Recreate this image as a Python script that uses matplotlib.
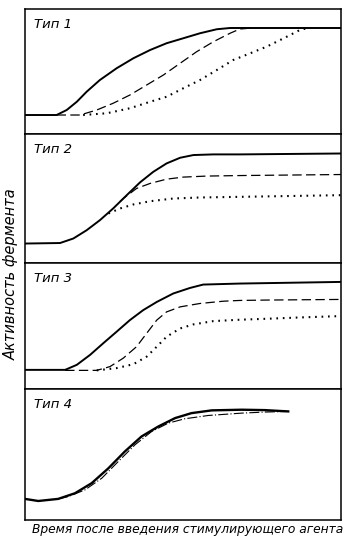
import matplotlib
matplotlib.use("Agg")
from matplotlib import pyplot as plt

# time (0-100 across each panel), activity (0-100 of panel height)
t1_solid = [0, 10.0, 13.2, 16.4, 19.5, 23.7, 29.0, 34.3, 39.6, 44.8, 50.1, 55.4, 60.7, 64.9, 100]
a1_solid = [15.2, 15.2, 19.2, 25.8, 33.8, 43.2, 52.6, 60.6, 67.2, 72.6, 76.6, 80.6, 83.8, 84.8, 84.8]
t1_dash = [10.0, 17.4, 22.7, 27.9, 33.2, 38.5, 43.8, 49.1, 54.3, 59.6, 64.9, 68.0, 72.0]
a1_dash = [15.2, 15.2, 19.2, 24.6, 31.2, 39.2, 47.2, 56.6, 65.8, 73.8, 80.6, 84.0, 84.8]
t1_dot = [18.4, 25.9, 33.2, 39.6, 44.8, 50.1, 55.4, 60.7, 65.9, 71.2, 76.5, 81.8, 87.0, 89.1]
a1_dot = [15.2, 16.6, 20.6, 25.8, 29.8, 36.6, 43.2, 51.2, 59.2, 64.5, 69.9, 76.5, 83.2, 84.5]

t2_solid = [0, 11.1, 15.3, 19.5, 23.7, 27.9, 32.2, 36.4, 40.6, 44.8, 49.1, 53.3, 59.6, 68.0, 100]
a2_solid = [15.1, 15.5, 19.0, 25.4, 33.2, 42.3, 52.6, 62.5, 70.7, 77.2, 81.6, 83.7, 84.2, 84.2, 84.9]
t2_dash = [30.0, 31.1, 35.3, 39.6, 44.8, 50.1, 57.5, 68.0, 100]
a2_dash = [47.5, 50.0, 57.8, 61.7, 65.0, 66.6, 67.4, 67.8, 68.6]
t2_dot = [26.4, 30.1, 34.3, 39.6, 46.9, 55.4, 68.0, 100]
a2_dot = [38.4, 42.3, 45.4, 47.9, 50.0, 50.8, 51.3, 52.6]

t3_solid = [0, 12.7, 16.4, 20.6, 24.8, 29.0, 33.2, 37.4, 41.7, 46.9, 52.2, 56.4, 68.0, 100]
a3_solid = [15.2, 15.2, 19.2, 27.1, 36.4, 45.5, 54.7, 62.6, 69.1, 75.8, 80.2, 82.9, 83.7, 85.0]
t3_dash = [12.7, 22.7, 26.9, 31.1, 35.3, 38.5, 41.7, 44.8, 49.1, 55.4, 62.8, 68.0, 76.5, 100]
a3_dash = [14.8, 14.8, 17.8, 24.5, 33.6, 44.2, 54.7, 61.2, 65.2, 67.9, 69.7, 70.3, 70.6, 71.1]
t3_dot = [22.7, 29.0, 34.3, 38.5, 41.7, 44.8, 49.1, 53.3, 59.6, 68.0, 77.0, 87.0, 100]
a3_dot = [14.8, 16.6, 19.7, 25.7, 33.6, 41.5, 48.1, 51.3, 53.9, 55.0, 55.8, 56.8, 57.9]

t4_solid = [0, 4.2, 10.5, 15.8, 21.1, 26.4, 31.6, 36.9, 42.2, 47.5, 52.7, 59.1, 68.6, 75.9, 83.3]
a4_solid = [16.1, 14.5, 16.1, 20.4, 28.1, 39.5, 52.3, 63.8, 71.4, 77.8, 81.6, 83.7, 84.2, 83.9, 82.9]
t4_dashdot = [10.5, 13.7, 19.0, 24.3, 29.5, 34.8, 40.1, 45.4, 50.6, 58.0, 68.6, 75.9, 83.3]
a4_dashdot = [16.1, 17.9, 23.0, 31.9, 44.6, 57.4, 67.6, 74.0, 77.3, 79.8, 81.6, 82.4, 82.9]

titles = ["Тип 1", "Тип 2", "Тип 3", "Тип 4"]

fig = plt.figure(figsize=(3.5, 5.45), dpi=100)
bounds = [0.9835, 0.7541, 0.5174, 0.2862, 0.0459]
axes = []
for i in range(4):
    ax = fig.add_axes([0.0714, bounds[i + 1], 0.9029, bounds[i] - bounds[i + 1]])
    ax.set_xlim(0, 100)
    ax.set_ylim(0, 100)
    ax.set_xticks([])
    ax.set_yticks([])
    for s in ax.spines.values():
        s.set_linewidth(1.1)
    ax.text(0.03, 0.93, titles[i], transform=ax.transAxes, ha="left", va="top",
            fontsize=9.5, style="italic")
    axes.append(ax)

dash = (0, (7.5, 3.5))
dots = (0, (0.8, 2.3))

ax = axes[0]
ax.plot(t1_solid, a1_solid, color="black", lw=1.4)
ax.plot(t1_dash, a1_dash, color="black", lw=0.9, linestyle=dash)
ax.plot(t1_dot, a1_dot, color="black", lw=1.5, linestyle=dots)

ax = axes[1]
ax.plot(t2_solid, a2_solid, color="black", lw=1.4)
ax.plot(t2_dash, a2_dash, color="black", lw=0.9, linestyle=dash)
ax.plot(t2_dot, a2_dot, color="black", lw=1.5, linestyle=dots)

ax = axes[2]
ax.plot(t3_solid, a3_solid, color="black", lw=1.4)
ax.plot(t3_dash, a3_dash, color="black", lw=0.9, linestyle=dash)
ax.plot(t3_dot, a3_dot, color="black", lw=1.5, linestyle=dots)

ax = axes[3]
ax.plot(t4_solid, a4_solid, color="black", lw=1.7)
ax.plot(t4_dashdot, a4_dashdot, color="black", lw=0.8, linestyle=(0, (9, 2, 1, 2)))

fig.text(0.031, 0.497, "Активность фермента", rotation=90, ha="center", va="center",
         fontsize=10.5, style="italic")
fig.text(0.535, 0.028, "Время после введения стимулирующего агента", ha="center", va="center",
         fontsize=8.8, style="italic")

fig.savefig("out.png", dpi=100)
